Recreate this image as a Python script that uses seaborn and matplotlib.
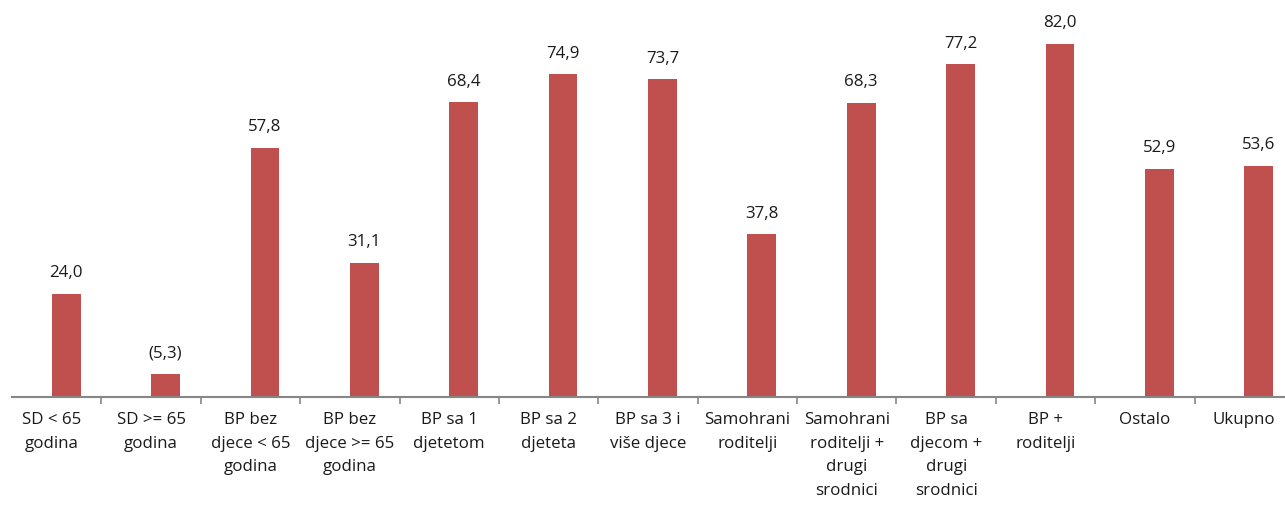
import matplotlib
matplotlib.use("Agg")
import matplotlib.pyplot as plt
import numpy as np
import pandas as pd
import seaborn as sns

categories = [
    "SD < 65\ngodina", "SD >= 65\ngodina", "BP bez\ndjece < 65\ngodina",
    "BP bez\ndjece >= 65\ngodina", "BP sa 1\ndjetetom", "BP sa 2\ndjeteta",
    "BP sa 3 i\nviše djece", "Samohrani\nroditelji",
    "Samohrani\nroditelji +\ndrugi\nsrodnici", "BP sa\ndjecom +\ndrugi\nsrodnici",
    "BP +\nroditelji", "Ostalo", "Ukupno",
]
values = [24.0, 5.3, 57.8, 31.1, 68.4, 74.9, 73.7, 37.8, 68.3, 77.2, 82.0, 52.9, 53.6]
value_labels = ["24,0", "(5,3)", "57,8", "31,1", "68,4", "74,9", "73,7", "37,8",
                "68,3", "77,2", "82,0", "52,9", "53,6"]
# the original is a two-series column chart whose first series is empty
series = ["prazno", "vrijednost"]

BAR_COLOR = "#C0504D"
AXIS_COLOR = "#868686"
TEXT_COLOR = "#1a1a1a"
FONT_SIZE = 12.2

sns.set_theme(style="white")
plt.rcParams["font.family"] = ["Open Sans", "DejaVu Sans"]

df = pd.DataFrame({
    "kategorija": categories * 2,
    "serija": [series[0]] * len(categories) + [series[1]] * len(categories),
    "vrijednost": [np.nan] * len(categories) + values,
})

fig = plt.figure(figsize=(12.85, 5.05), dpi=100)
ax = fig.add_axes([12 / 1285, 108 / 505, 1 - 12 / 1285, 397 / 505])

sns.barplot(
    data=df, x="kategorija", y="vrijednost", hue="serija", hue_order=series,
    order=categories, palette={series[0]: BAR_COLOR, series[1]: BAR_COLOR},
    saturation=1, width=0.58, dodge=True, errorbar=None, legend=False,
    linewidth=0, ax=ax,
)

for cont in ax.containers:
    if len(cont) and not np.all(np.isnan([p.get_height() for p in cont])):
        ax.bar_label(cont, labels=value_labels, padding=9, fontsize=FONT_SIZE, color=TEXT_COLOR)

ax.set_xlim(-0.4, len(categories) - 0.59)
ax.set_ylim(0, 92.1)
ax.set_xlabel("")
ax.set_ylabel("")
ax.set_yticks([])

for side in ["left", "right", "top"]:
    ax.spines[side].set_visible(False)
ax.spines["bottom"].set_color(AXIS_COLOR)
ax.spines["bottom"].set_linewidth(1.5)

ax.set_xticks(np.arange(len(categories)))
ax.set_xticklabels(categories, fontsize=FONT_SIZE, color=TEXT_COLOR, linespacing=1.62, va="top")
ax.set_xticks(np.arange(len(categories) - 1) + 0.5, minor=True)
ax.tick_params(axis="x", which="major", length=0, pad=11)
ax.tick_params(axis="x", which="minor", bottom=True, length=5, width=1.2, color=AXIS_COLOR, direction="out")

fig.savefig("out.png", dpi=100)
